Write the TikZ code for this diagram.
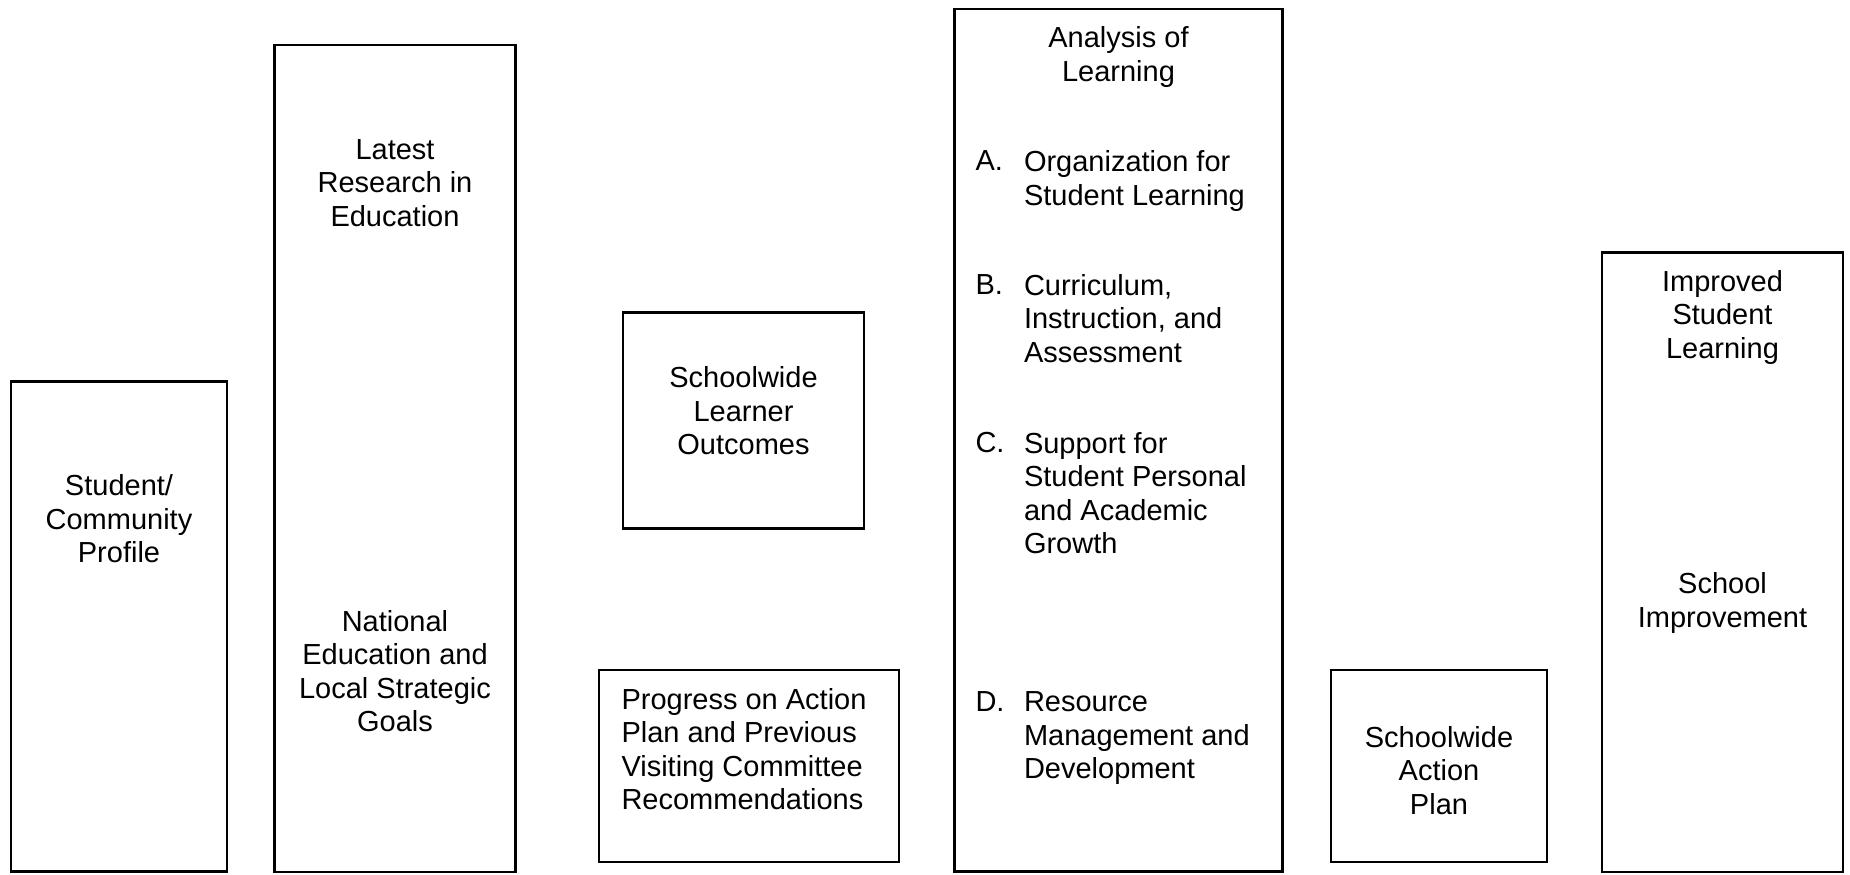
\documentclass[tikz,border=0pt]{standalone}
\usepackage{fontspec}
\setmainfont{Liberation Sans}
\tikzset{
  frame/.style={draw=black, line width=2.5pt, inner sep=0pt, outer sep=0pt, anchor=north west, fill=none},
  txt/.style={inner sep=0pt, outer sep=0pt, align=center, font=\fontsize{29}{33.5}\selectfont},
  ltxt/.style={inner sep=0pt, outer sep=0pt, align=left, anchor=north west, font=\fontsize{29}{33.5}\selectfont},
}
\begin{document}
\begin{tikzpicture}[x=1pt,y=-1pt]
\useasboundingbox (0,0) rectangle (1850,875);
% boxes
\node[frame, minimum width=216pt, minimum height=490pt] (b1) at (11,381.5) {};
\node[frame, minimum width=241pt, minimum height=827pt] (b2) at (274.5,45) {};
\node[frame, minimum width=241pt, minimum height=216pt] (b3) at (623,312.5) {};
\node[frame, minimum width=300pt, minimum height=192pt] (b4) at (599,670) {};
\node[frame, minimum width=328pt, minimum height=862.5pt] (b5) at (954.5,9.2) {};
\node[frame, minimum width=216pt, minimum height=192pt] (b6) at (1331,670) {};
\node[frame, minimum width=241pt, minimum height=619.5pt] (b7) at (1602,252.5) {};
% texts
\node[txt] (t1) at (119,519) {Student/\\Community\\Profile};
\node[txt] (t2a) at (395,183) {Latest\\Research in\\Education};
\node[txt] (t2b) at (395,671) {National\\Education and\\Local Strategic\\Goals};
\node[txt] (t3) at (743.5,411) {Schoolwide\\Learner\\Outcomes};
\node[ltxt] (t4) at (621.5,688) {Progress on Action\\Plan and Previous\\Visiting Committee\\Recommendations};
\node[txt] (t5) at (1118.5,57) {Analysis of\\Learning};
\node[ltxt] (la) at (975.5,150.5) {A.};
\node[ltxt] (ta) at (1024,150.5) {Organization for\\Student Learning};
\node[ltxt] (lb) at (975.5,274.3) {B.};
\node[ltxt] (tb) at (1024,274.3) {Curriculum,\\Instruction, and\\Assessment};
\node[ltxt] (lc) at (975.5,432.4) {C.};
\node[ltxt] (tc) at (1024,432.4) {Support for\\Student Personal\\and Academic\\Growth};
\node[ltxt] (ld) at (975.5,692) {D.};
\node[ltxt] (td) at (1024,692) {Resource\\Management and\\Development};
\node[txt] (t6) at (1439,770.5) {Schoolwide\\Action\\Plan};
\node[txt] (t7a) at (1722.5,317) {Improved\\Student\\Learning};
\node[txt] (t7b) at (1722.5,603) {School\\Improvement};
\end{tikzpicture}
\end{document}
